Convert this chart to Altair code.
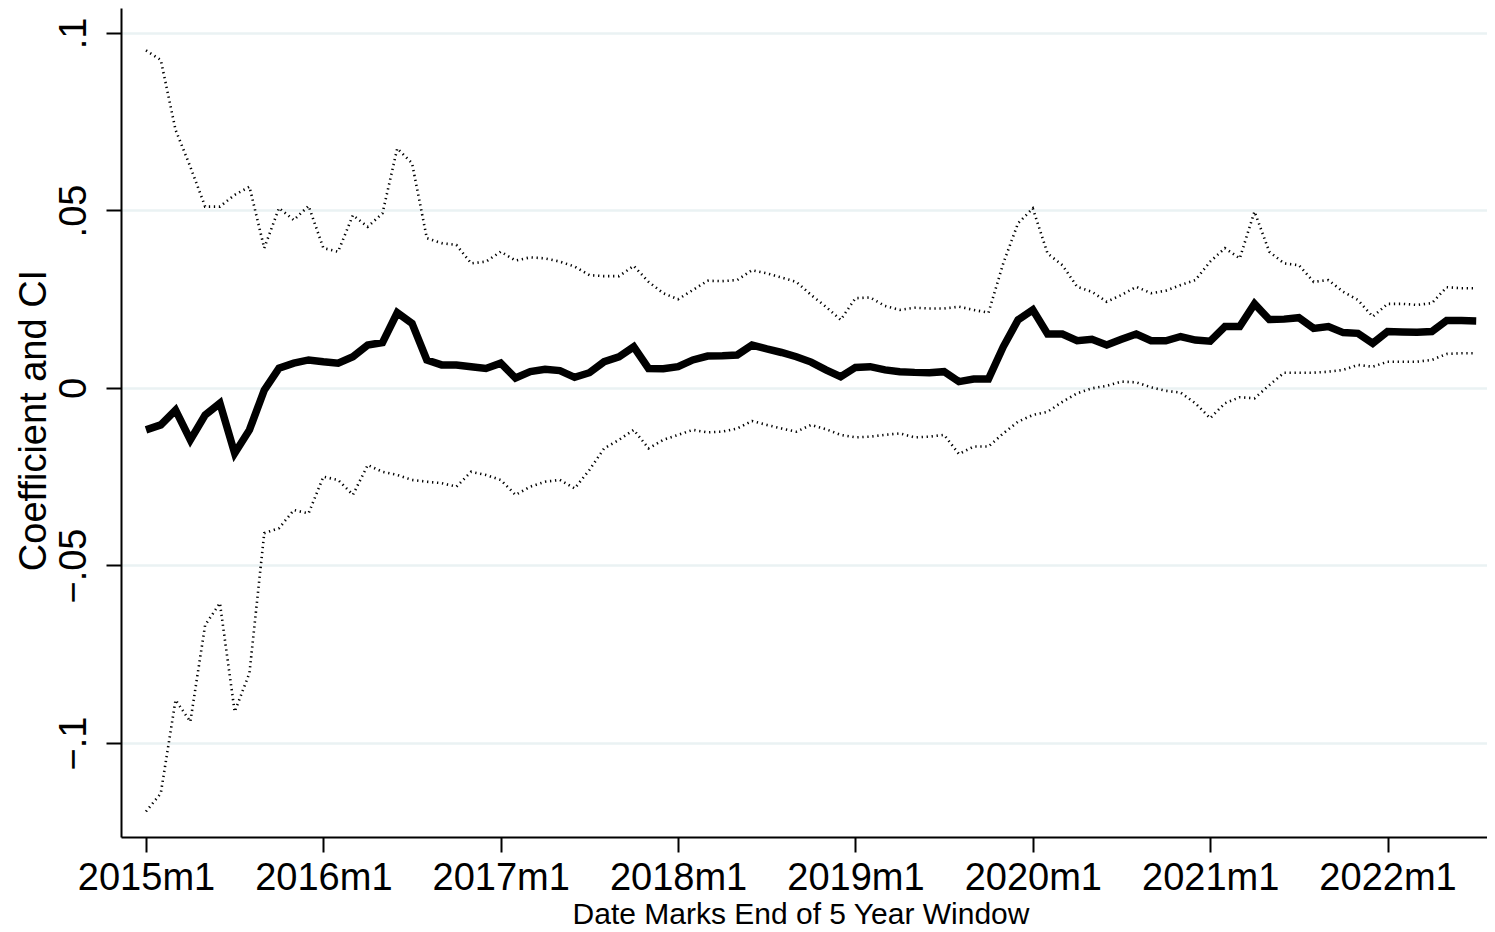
import altair as alt
import pandas as pd

# month index 0 = 2015m1 ... 90 = 2022m7
coef = [-0.0118, -0.0104, -0.0062, -0.0146, -0.0076, -0.0043, -0.0184, -0.0118, -0.0006, 0.0056,
        0.0070, 0.0079, 0.0074, 0.0070, 0.0088, 0.0121, 0.0128, 0.0212, 0.0182, 0.0079,
        0.0065, 0.0065, 0.0060, 0.0055, 0.0070, 0.0028, 0.0046, 0.0053, 0.0049, 0.0030,
        0.0043, 0.0074, 0.0088, 0.0116, 0.0055, 0.0054, 0.0060, 0.0079, 0.0090, 0.0091,
        0.0093, 0.0121, 0.0110, 0.0100, 0.0088, 0.0073, 0.0051, 0.0032, 0.0058, 0.0060,
        0.0051, 0.0046, 0.0044, 0.0043, 0.0046, 0.0018, 0.0025, 0.0025, 0.0116, 0.0192,
        0.0220, 0.0152, 0.0152, 0.0133, 0.0137, 0.0121, 0.0137, 0.0152, 0.0133, 0.0133,
        0.0145, 0.0135, 0.0132, 0.0173, 0.0173, 0.0237, 0.0193, 0.0194, 0.0198, 0.0168,
        0.0173, 0.0156, 0.0154, 0.0126, 0.0159, 0.0158, 0.0157, 0.0159, 0.0190, 0.0190,
        0.0189]

upper = [0.0951, 0.0924, 0.0727, 0.0623, 0.0511, 0.0511, 0.0544, 0.0567, 0.0394, 0.0507,
         0.0473, 0.0513, 0.0394, 0.0384, 0.0487, 0.0454, 0.0492, 0.0675, 0.0633, 0.0422,
         0.0408, 0.0403, 0.0351, 0.0356, 0.0384, 0.0359, 0.0368, 0.0365, 0.0356, 0.0342,
         0.0318, 0.0315, 0.0315, 0.0344, 0.0299, 0.0267, 0.0250, 0.0276, 0.0302, 0.0301,
         0.0304, 0.0332, 0.0323, 0.0311, 0.0299, 0.0262, 0.0229, 0.0192, 0.0253, 0.0255,
         0.0231, 0.0220, 0.0226, 0.0224, 0.0224, 0.0229, 0.0220, 0.0212, 0.0351, 0.0464,
         0.0506, 0.0379, 0.0346, 0.0285, 0.0271, 0.0243, 0.0262, 0.0285, 0.0267, 0.0274,
         0.0290, 0.0304, 0.0356, 0.0394, 0.0365, 0.0497, 0.0384, 0.0351, 0.0346, 0.0299,
         0.0304, 0.0271, 0.0248, 0.0201, 0.0237, 0.0237, 0.0234, 0.0239, 0.0284, 0.0281,
         0.0281]

lower = [-0.1193, -0.1142, -0.0879, -0.0940, -0.0668, -0.0606, -0.0912, -0.0803, -0.0409, -0.0395,
         -0.0344, -0.0353, -0.0250, -0.0259, -0.0301, -0.0217, -0.0236, -0.0245, -0.0259, -0.0264,
         -0.0268, -0.0278, -0.0236, -0.0245, -0.0259, -0.0301, -0.0278, -0.0264, -0.0259, -0.0283,
         -0.0231, -0.0170, -0.0146, -0.0118, -0.0170, -0.0146, -0.0132, -0.0118, -0.0125, -0.0123,
         -0.0114, -0.0093, -0.0104, -0.0114, -0.0123, -0.0104, -0.0116, -0.0132, -0.0139, -0.0137,
         -0.0132, -0.0128, -0.0139, -0.0137, -0.0132, -0.0186, -0.0165, -0.0165, -0.0128, -0.0095,
         -0.0076, -0.0067, -0.0039, -0.0015, -0.0001, 0.0006, 0.0018, 0.0016, 0.0002, -0.0008,
         -0.0013, -0.0043, -0.0085, -0.0043, -0.0026, -0.0029, 0.0008, 0.0043, 0.0043, 0.0043,
         0.0046, 0.0051, 0.0065, 0.0060, 0.0074, 0.0074, 0.0074, 0.0079, 0.0096, 0.0098,
         0.0098]

x_tick_values = [0, 12, 24, 36, 48, 60, 72, 84]
x_tick_labels = ["2015m1", "2016m1", "2017m1", "2018m1", "2019m1", "2020m1", "2021m1", "2022m1"]
y_tick_values = [-0.1, -0.05, 0, 0.05, 0.1]
y_tick_labels = ["\u2212.1", "\u2212.05", "0", ".05", ".1"]

df = pd.DataFrame({"t": list(range(len(coef))), "coef": coef, "upper": upper, "lower": lower})


def label_expr(values, labels, scale):
    expr = "''"
    for v, l in zip(reversed(values), reversed(labels)):
        expr = f"round(datum.value*{scale})=={round(v*scale)} ? '{l}' : ({expr})"
    return expr


FONT = "Liberation Sans"

x_enc = alt.X(
    "t:Q",
    scale=alt.Scale(domain=[-1.6915, 90.73], nice=False, zero=False),
    axis=alt.Axis(
        values=x_tick_values,
        labelExpr=label_expr(x_tick_values, x_tick_labels, 1),
        title="Date Marks End of 5 Year Window",
        grid=False,
        domainColor="black", domainWidth=2,
        tickColor="black", tickWidth=2, tickSize=15,
        labelFont=FONT, labelFontSize=38, labelColor="black",
        labelPadding=7, labelBaseline="top", labelAlign="center",
        labelFlush=False, labelOverlap=False,
        titleFont=FONT, titleFontSize=30, titleFontWeight="normal", titleColor="black",
        titleX=679.5, titleY=86, titleBaseline="alphabetic", titleAlign="center",
    ),
)

y_scale = alt.Scale(domain=[-0.12648, 0.10704], nice=False, zero=False)
y_axis = alt.Axis(
    values=y_tick_values,
    labelExpr=label_expr(y_tick_values, y_tick_labels, 100),
    title="Coefficient and CI",
    grid=True, gridColor="#EAF2F3", gridWidth=2.5,
    domainColor="black", domainWidth=2,
    tickColor="black", tickWidth=2, tickSize=15,
    labelFont=FONT, labelFontSize=38, labelColor="black",
    labelAngle=270, labelAlign="center", labelBaseline="alphabetic",
    labelPadding=21, labelFlush=False, labelOverlap=False,
    titleFont=FONT, titleFontSize=38, titleFontWeight="normal", titleColor="black",
    titleAngle=270, titleX=-76, titleY=412, titleBaseline="alphabetic", titleAlign="center",
)

base = alt.Chart(df)

ci_style = dict(color="black", strokeWidth=2.6, strokeDash=[1.3, 3.7])

upper_line = base.mark_line(**ci_style).encode(
    x=x_enc, y=alt.Y("upper:Q", scale=y_scale, axis=y_axis)
)
lower_line = base.mark_line(**ci_style).encode(
    x=x_enc, y=alt.Y("lower:Q", scale=y_scale, axis=y_axis)
)
coef_line = base.mark_line(color="black", strokeWidth=7.5).encode(
    x=x_enc, y=alt.Y("coef:Q", scale=y_scale, axis=y_axis)
)

chart = (
    alt.layer(upper_line, lower_line, coef_line)
    .properties(
        width=1366,
        height=829,
        padding={"left": 113, "top": 0, "right": 0, "bottom": 94},
        autosize=alt.AutoSizeParams(type="none"),
        background="white",
    )
    .configure_view(stroke=None)
)

chart.save("out.html", embed_options={"renderer": "svg", "actions": False})
